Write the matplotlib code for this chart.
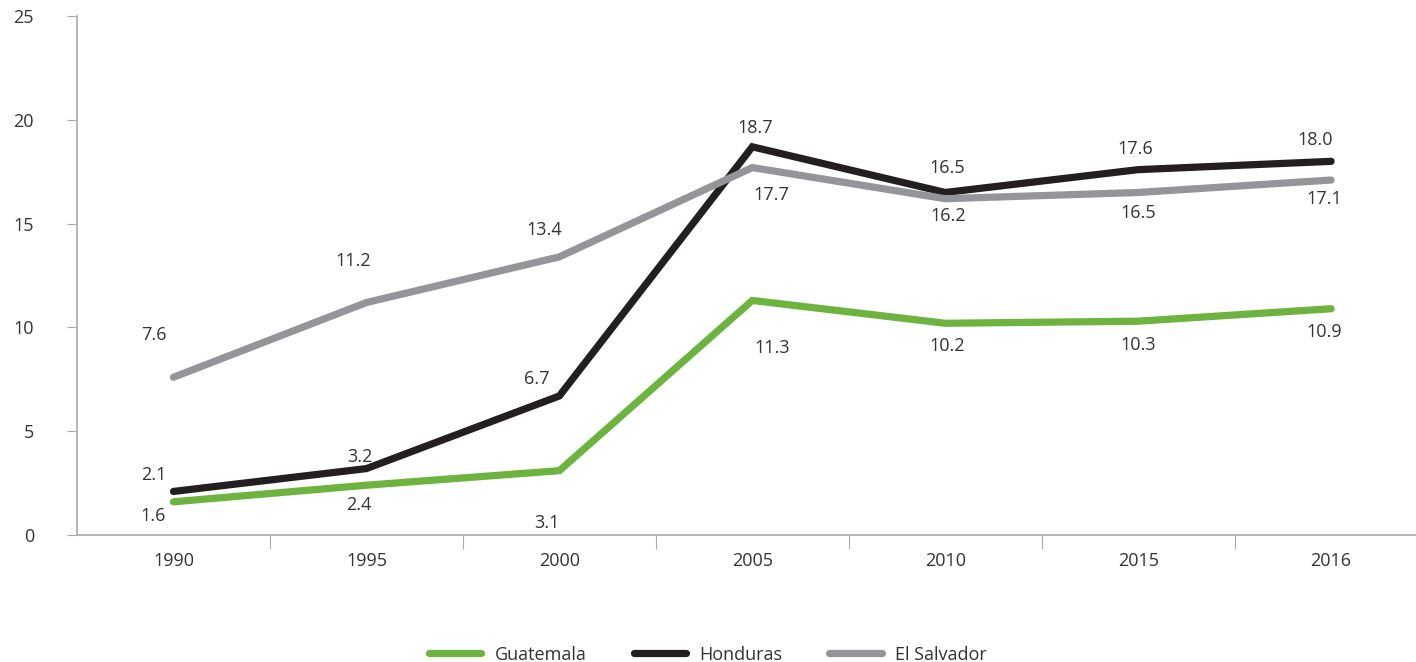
import matplotlib
matplotlib.use("Agg")
import matplotlib.pyplot as plt
from matplotlib.ticker import FixedLocator, NullFormatter

years = ["1990", "1995", "2000", "2005", "2010", "2015", "2016"]
guatemala = [1.6, 2.4, 3.1, 11.3, 10.2, 10.3, 10.9]
honduras = [2.1, 3.2, 6.7, 18.7, 16.5, 17.6, 18.0]
el_salvador = [7.6, 11.2, 13.4, 17.7, 16.2, 16.5, 17.1]

# label offsets in pixels (dx, dy) relative to each point
off_gt = [(-20, -14), (-8, -20), (-12, -52), (20, -48), (2, -23), (0, -24), (-7, -23)]
off_hn = [(-20, 16), (-6, 12), (-23, 17), (3, 19), (2, 24), (-3, 21), (-16, 21)]
off_sv = [(-20, 42), (-13, 42), (-15, 27), (19, -27), (3, -17), (0, -21), (-7, -19)]

plt.rcParams["font.family"] = ["Open Sans", "DejaVu Sans"]
fig = plt.figure(figsize=(14.16, 6.62), dpi=100)
ax = fig.add_axes([0.0544, 0.1918, 0.9456, 0.784])

x = list(range(len(years)))
series = [
    ("Guatemala", guatemala, "#6db33f", off_gt),
    ("Honduras", honduras, "#231f20", off_hn),
    ("El Salvador", el_salvador, "#939598", off_sv),
]
for name, vals, col, offs in series:
    ax.plot(x, vals, color=col, lw=5.2, solid_capstyle="round",
            solid_joinstyle="miter", label=name)
    for xi, v, (dx, dy) in zip(x, vals, offs):
        ax.annotate(f"{v:.1f}", (xi, v), xytext=(dx, dy), textcoords="offset pixels",
                    ha="center", va="center", fontsize=13, color="#333333")

ax.set_xlim(-0.5, 6.44)
ax.set_ylim(0, 25)
ax.set_yticks(range(0, 26, 5))
ax.xaxis.set_major_locator(FixedLocator([i + 0.5 for i in range(6)]))
ax.xaxis.set_major_formatter(NullFormatter())
ax.xaxis.set_minor_locator(FixedLocator(x))
ax.set_xticklabels(years, minor=True)
ax.tick_params(axis="x", which="major", length=10, color="#a7a9ac", direction="out")
ax.tick_params(axis="x", which="minor", length=0, pad=12, labelsize=13, labelcolor="#333333")
ax.tick_params(axis="y", length=7, color="#a7a9ac", pad=24, labelsize=13, labelcolor="#333333")

for s in ["top", "right"]:
    ax.spines[s].set_visible(False)
for s in ["left", "bottom"]:
    ax.spines[s].set_color("#a7a9ac")
    ax.spines[s].set_linewidth(1.2)

leg = fig.legend(loc="lower center", bbox_to_anchor=(0.5, -0.027), ncol=3, frameon=False,
                 fontsize=13, handlelength=2.9, columnspacing=2.6, handletextpad=0.75)
for t in leg.get_texts():
    t.set_color("#333333")

fig.savefig("out.png", dpi=100)
